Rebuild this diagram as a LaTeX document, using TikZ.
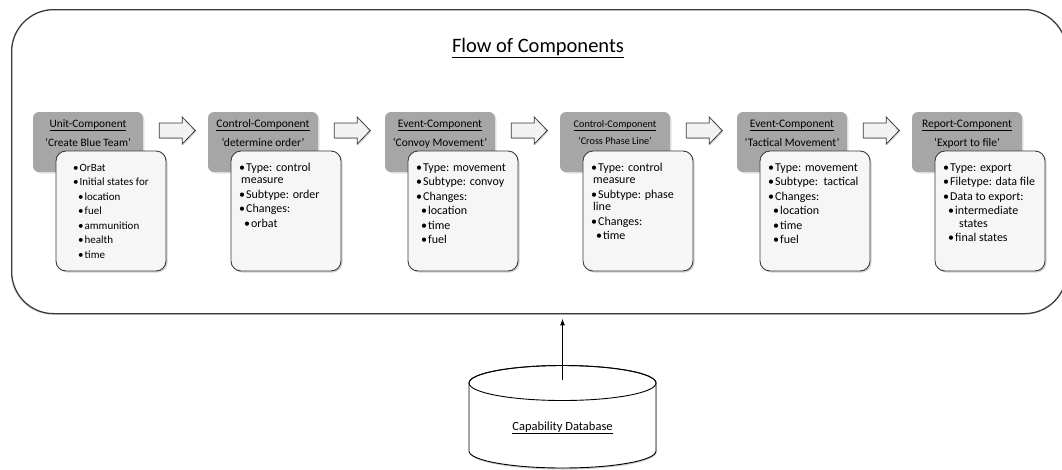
\documentclass[tikz,border=0pt]{standalone}
\usepackage{fontspec}
\setmainfont{Carlito}
\usetikzlibrary{shadows,arrows.meta}

\definecolor{hdrgray}{RGB}{166,166,166}
\definecolor{bodyfill}{RGB}{246,246,246}
\definecolor{edgegray}{RGB}{60,60,60}
\definecolor{arrowfill}{RGB}{242,242,242}

% bullet helpers
\newcommand\bl{•\hspace{1pt}}
\newcommand\sbl{\hspace*{5pt}•\hspace{1pt}}

% one component: name, left x, title, subtitle, text inset, body, title size, body size
\newcommand\component[8]{%
  \node[hdrbox] (h#1) at (#2+55,142) {};
  \node[hdrtext, font=\fontsize{#7}{#7}\selectfont] (t#1) at (#2+55,127) {\underline{#3}};
  \node[hdrtext, font=\fontsize{#7}{#7}\selectfont] (s#1) at (#2+55,{127+1.7*#7}) {#4};
  \node[bodybox] (d#1) at (#2+78,211) {};
  \node[bodytext, font=\fontsize{#8}{12.5}\selectfont] (b#1) at (#2+23+#5,171)
    {\begin{tabular}[t]{@{}l@{}}#6\end{tabular}};
}

% block arrow to the right of a header box
\newcommand\flowarrow[1]{%
  \draw[blockarrow, shift={(#1.east)}]
    (16,-19) -- (39,-19) -- (39,-25) -- (52,-11.5) -- (39,2) -- (39,-4) -- (16,-4) -- cycle;
}

\begin{document}
\begin{tikzpicture}[x=1pt,y=-1pt,
  frame/.style={draw=edgegray, line width=1.3pt, rounded corners=42pt,
    minimum width=1055pt, minimum height=304pt, anchor=north west, inner sep=0pt,
    fill=white, drop shadow={shadow xshift=-0.8pt, shadow yshift=-1.2pt, opacity=0.25}},
  hdrbox/.style={fill=hdrgray, rounded corners=6pt, minimum width=110pt,
    minimum height=60pt, inner sep=0pt,
    drop shadow={shadow xshift=1.5pt, shadow yshift=-1.5pt, opacity=0.2}},
  hdrtext/.style={anchor=base, inner sep=0pt, text=black},
  bodybox/.style={draw=edgegray, line width=0.9pt, fill=bodyfill, rounded corners=10pt,
    minimum width=110pt, minimum height=120pt, inner sep=0pt,
    drop shadow={shadow xshift=1.5pt, shadow yshift=-1.5pt, opacity=0.35}},
  bodytext/.style={anchor=base west, inner sep=0pt},
  blockarrow/.style={draw=edgegray, line width=0.8pt, fill=arrowfill,
    drop shadow={shadow xshift=1.2pt, shadow yshift=-1.2pt, opacity=0.3}},
  dbline/.style={draw=black, line width=0.9pt},
]
\useasboundingbox (0,0) rectangle (1062,469);
\clip (0,0) rectangle (1062,469);

% outer frame and title
\node[frame] (frame) at (11,9) {};
\node[anchor=base, inner sep=0pt, font=\fontsize{20.5}{24}\selectfont] (title) at (538,52)
  {\underline{Flow of Components}};

% the six components
\component{1}{33}{Unit-Component}{‘Create Blue Team’}{17}{%
  \bl OrBat\\[2pt]
  \bl Initial states for\\[2pt]
  \sbl location\\[2pt]
  \sbl fuel\\[2pt]
  \sbl ammunition\\[2pt]
  \sbl health\\[2pt]
  \sbl time}{11.3}{11}
\component{2}{208}{Control-Component}{‘determine order’}{8}{%
  \bl Type: control\\
  \hspace*{2pt}measure\\[2pt]
  \bl Subtype: order\\[2pt]
  \bl Changes:\\[2pt]
  \sbl orbat}{11.5}{12}
\component{3}{385}{Event-Component}{‘Convoy Movement’}{8}{%
  \bl Type: movement\\[2pt]
  \bl Subtype: convoy\\[2pt]
  \bl Changes:\\[2pt]
  \sbl location\\[2pt]
  \sbl time\\[2pt]
  \sbl fuel}{11.5}{12}
\component{4}{560}{Control-Component}{‘Cross Phase Line’}{8}{%
  \bl Type: control\\
  \hspace*{2pt}measure\\[2pt]
  \bl Subtype: phase\\
  \hspace*{2pt}line\\[2pt]
  \bl Changes:\\[2pt]
  \sbl time}{10.2}{12}
\component{5}{737}{Event-Component}{‘Tactical Movement’}{8}{%
  \bl Type: movement\\[2pt]
  \bl Subtype:\ \ tactical\\[2pt]
  \bl Changes:\\[2pt]
  \sbl location\\[2pt]
  \sbl time\\[2pt]
  \sbl fuel}{11.5}{12}
\component{6}{912}{Report-Component}{‘Export to file’}{8}{%
  \bl Type: export\\[2pt]
  \bl Filetype: data file\\[2pt]
  \bl Data to export:\\[2pt]
  \sbl intermediate\\
  \hspace*{16pt}states\\[2pt]
  \sbl final states}{11.5}{12}

% arrows between the components
\flowarrow{h1}
\flowarrow{h2}
\flowarrow{h3}
\flowarrow{h4}
\flowarrow{h5}

% capability database cylinder
\draw[dbline, fill=white, drop shadow={shadow xshift=0.5pt, shadow yshift=-1.5pt, opacity=0.4}]
  (469,383) -- (469,451) arc[start angle=180, end angle=0, x radius=93.5, y radius=17]
  -- (656,383) arc[start angle=0, end angle=-180, x radius=93.5, y radius=17.5] -- cycle;
\draw[dbline] (562.5,383) ellipse [x radius=93.5, y radius=17.5];
\node[anchor=base, inner sep=0pt, font=\fontsize{12.5}{14}\selectfont] (db) at (562.5,430)
  {\underline{Capability Database}};

% database feeds the flow
\coordinate (dbtop) at (562.5,380);
\draw[-{Latex[length=7pt,width=5pt]}, line width=1.3pt, shorten >=4pt]
  (dbtop) -- (dbtop |- frame.south);
\end{tikzpicture}
\end{document}
